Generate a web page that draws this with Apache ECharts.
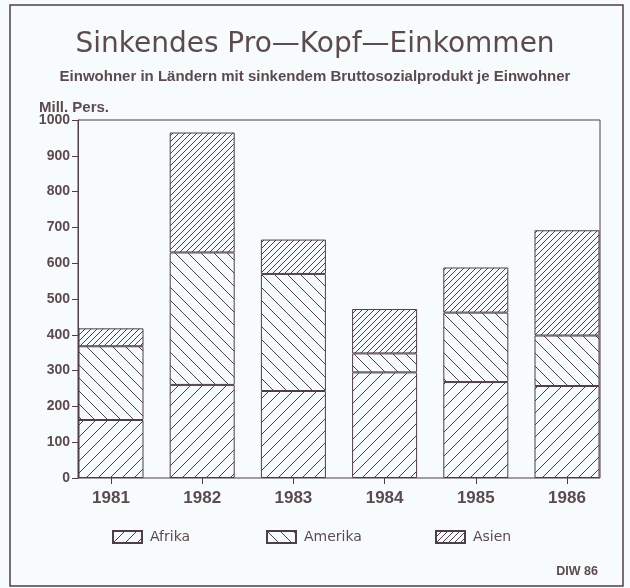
<!DOCTYPE html>
<html>
<head>
<meta charset="utf-8">
<script src="https://cdn.jsdelivr.net/npm/echarts@6/dist/echarts.min.js"></script>
<style>
  html, body { margin: 0; padding: 0; background: #f8fbfc; }
  #chart { width: 630px; height: 588px; }
</style>
</head>
<body>
<div id="chart"></div>
<script>
// Daten (Mill. Personen)
const years = ['1981', '1982', '1983', '1984', '1985', '1986']
const afrika = [162, 260, 243, 295, 268, 257]
const amerika = [206, 370, 327, 53, 194, 141]
const asien = [50, 335, 96, 124, 126, 294]

const ink = '#4d3f45'
const textColor = '#5b4b50'
const bg = '#f8fbfc'

// Schraffur als Canvas-Muster
const hatch = (step, dir) => {
  const c = document.createElement('canvas')
  c.width = step
  c.height = step
  const g = c.getContext('2d')
  g.fillStyle = bg
  g.fillRect(0, 0, step, step)
  g.strokeStyle = ink
  g.lineWidth = 1
  g.beginPath()
  if (dir === '/') {
    g.moveTo(-1, step + 1); g.lineTo(step + 1, -1)
    g.moveTo(-1, 1); g.lineTo(1, -1)
    g.moveTo(step - 1, step + 1); g.lineTo(step + 1, step - 1)
  } else {
    g.moveTo(-1, -1); g.lineTo(step + 1, step + 1)
    g.moveTo(step - 1, -1); g.lineTo(step + 1, 1)
    g.moveTo(-1, step - 1); g.lineTo(1, step + 1)
  }
  g.stroke()
  return { image: c, repeat: 'repeat' }
}

const barSeries = (name, data, pattern) => ({
  name,
  type: 'bar',
  stack: 'total',
  barWidth: 65,
  xAxisIndex: 1,
  yAxisIndex: 1,
  data,
  itemStyle: {
    color: pattern,
    borderColor: ink,
    borderWidth: 1
  },
  emphasis: { disabled: true }
})

const chart = echarts.init(document.getElementById('chart'))

const legendBase = {
  icon: 'rect',
  itemWidth: 29,
  itemHeight: 12,
  top: 525,
  textStyle: { color: textColor, fontSize: 14, fontFamily: 'DejaVu Sans', padding: [0, 0, 0, 3] }
}

const option = {
  backgroundColor: bg,
  animation: false,
  title: [
    {
      text: 'Sinkendes Pro—Kopf—Einkommen',
      left: 'center',
      top: 26,
      textStyle: { color: textColor, fontSize: 28, fontWeight: 'normal', fontFamily: 'DejaVu Sans' }
    },
    {
      text: 'Einwohner in Ländern mit sinkendem Bruttosozialprodukt je Einwohner',
      left: 'center',
      top: 64,
      textStyle: { color: textColor, fontSize: 15, fontWeight: 'bold', fontFamily: 'Liberation Sans' }
    },
    {
      text: 'Mill. Pers.',
      left: 34,
      top: 95,
      textStyle: { color: textColor, fontSize: 15, fontWeight: 'bold', fontFamily: 'Liberation Sans' }
    },
    {
      text: 'DIW 86',
      right: 27,
      top: 560,
      textStyle: { color: textColor, fontSize: 12.5, fontWeight: 'bold', fontFamily: 'Liberation Sans' }
    }
  ],
  legend: [
    Object.assign({ data: ['Afrika'], left: 107 }, legendBase),
    Object.assign({ data: ['Amerika'], left: 261 }, legendBase),
    Object.assign({ data: ['Asien'], left: 430 }, legendBase)
  ],
  graphic: [
    {
      type: 'rect',
      shape: { x: 10, y: 5, width: 613, height: 581 },
      style: { fill: 'none', stroke: ink, lineWidth: 1.5 },
      silent: true
    }
  ],
  grid: [
    // Rahmen des Diagramms
    {
      left: 78,
      right: 30,
      top: 120,
      bottom: 110,
      show: true,
      borderColor: ink,
      borderWidth: 1,
      backgroundColor: 'transparent'
    },
    // Raster für die Säulen
    {
      left: 65.4,
      right: 17.4,
      top: 120,
      bottom: 110
    }
  ],
  xAxis: [
    { type: 'value', gridIndex: 0, show: false },
    {
      type: 'category',
      gridIndex: 1,
      data: years,
      axisLine: { show: false },
      axisTick: {
        show: true,
        alignWithLabel: true,
        length: 6,
        lineStyle: { color: ink }
      },
      axisLabel: {
        color: textColor,
        fontSize: 17,
        fontWeight: 'bold',
        fontFamily: 'Liberation Sans',
        margin: 12
      }
    }
  ],
  yAxis: [
    { type: 'value', gridIndex: 0, show: false },
    {
      type: 'value',
      gridIndex: 1,
      offset: -12.6,
      min: 0,
      max: 1000,
      interval: 100,
      splitLine: { show: false },
      axisLine: { show: true, lineStyle: { color: ink, width: 1 } },
      axisTick: { show: true, length: 6, lineStyle: { color: ink } },
      axisLabel: {
        formatter: v => String(v),
        color: textColor,
        fontSize: 14,
        fontWeight: 'bold',
        fontFamily: 'Liberation Sans',
        margin: 8
      }
    }
  ],
  series: [
    barSeries('Afrika', afrika, hatch(12, '/')),
    barSeries('Amerika', amerika, hatch(13, '\\')),
    barSeries('Asien', asien, hatch(6, '/'))
  ]
}

chart.setOption(option)
</script>
</body>
</html>
